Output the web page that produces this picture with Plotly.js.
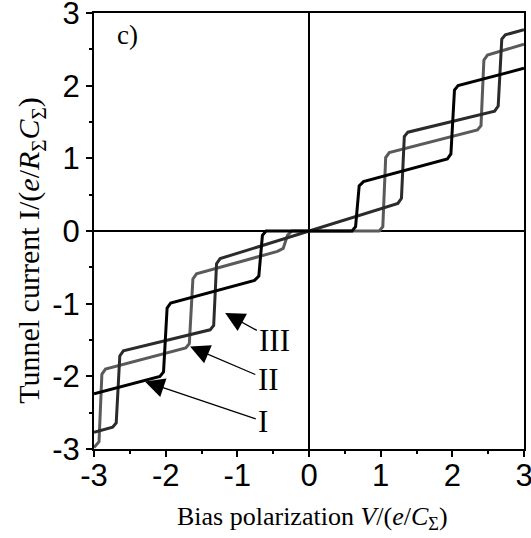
<!DOCTYPE html>
<html>
<head>
<meta charset="utf-8">
<script src="https://cdn.plot.ly/plotly-3.0.1.min.js"></script>
<style>html,body{margin:0;padding:0;background:#fff;}#chart{width:531px;height:538px;}</style>
</head>
<body>
<div id="chart"></div>
<script>
// Curve I (black)
const curveIx = [-3.00,-2.08,-2.03,-1.98,-1.93,-0.76,-0.70,-0.65,-0.60,0.60,0.65,0.70,0.76,1.93,1.98,2.03,2.08,3.00];
const curveIy = [-2.24,-2.00,-1.94,-1.06,-0.99,-0.68,-0.62,-0.06,0.00,0.00,0.06,0.62,0.68,0.99,1.06,1.94,2.00,2.24];
// Curve II (gray)
const curveIIx = [-3.00,-2.93,-2.89,-2.84,-1.72,-1.67,-1.62,-1.57,-0.44,-0.36,-0.30,-0.24,0.98,1.03,1.07,1.12,2.35,2.40,2.44,2.49,3.00];
const curveIIy = [-2.98,-2.90,-1.97,-1.90,-1.61,-1.55,-0.66,-0.59,-0.28,-0.24,-0.06,0.00,0.00,0.06,1.01,1.08,1.39,1.45,2.35,2.42,2.57];
// Curve III (dark gray)
const curveIIIx = [-3.00,-2.74,-2.69,-2.64,-2.59,-1.38,-1.33,-1.29,-1.24,1.24,1.29,1.33,1.38,2.59,2.64,2.69,2.74,3.00];
const curveIIIy = [-2.77,-2.70,-2.64,-1.72,-1.65,-1.36,-1.30,-0.45,-0.38,0.38,0.45,1.30,1.36,1.65,1.72,2.64,2.70,2.77];

const tickVals = [-3,-2,-1,0,1,2,3];
const tickText = ['-3','-2','-1','0','1','2','3'];

// Labels: text, label centre (arrow tail), arrow tip
const labelNames = ['I','II','III'];
const labelX = [-0.64,-0.57,-0.48];
const labelY = [-2.62,-2.05,-1.50];
const tipX = [-2.29,-1.66,-1.17];
const tipY = [-2.07,-1.59,-1.13];

const colors = ['#000000','#5a5a5a','#2b2b2b'];

const traces = [
  {x: curveIIx, y: curveIIy, mode:'lines', line:{color:colors[1], width:3}},
  {x: curveIIIx, y: curveIIIy, mode:'lines', line:{color:colors[2], width:3}},
  {x: curveIx, y: curveIy, mode:'lines', line:{color:colors[0], width:3}}
];

const axisCommon = {
  range:[-3,3], tickvals: tickVals, ticktext: tickText,
  showgrid:false, zeroline:true, zerolinecolor:'#000', zerolinewidth:2,
  showline:true, linecolor:'#000', linewidth:2, mirror:true,
  ticks:'outside', ticklen:6, tickwidth:2, tickcolor:'#000',
  minor:{dtick:0.5, ticks:'outside', ticklen:3, tickwidth:2, tickcolor:'#000'},
  tickfont:{family:'Liberation Sans, Arial, sans-serif', size:31, color:'#000'},
  ticklabeloverflow:'allow',
  fixedrange:true
};

const annotations = [];
for (let i=0;i<labelNames.length;i++){
  annotations.push({x:tipX[i], y:tipY[i], ax:labelX[i], ay:labelY[i], xref:'x', yref:'y', axref:'x', ayref:'y',
    text:labelNames[i], showarrow:true, arrowhead:2, arrowsize:3.0, arrowwidth:1.3, arrowcolor:'#000',
    xanchor:'center', yanchor:'middle', borderpad:0, standoff:0, startstandoff:2,
    font:{family:'Liberation Serif, Times New Roman, serif', size:31, color:'#000'}});
}
annotations.push({x:-2.71, y:2.70, xref:'x', yref:'y', text:'c)', showarrow:false, xanchor:'left', yanchor:'middle',
  font:{family:'Liberation Serif, Times New Roman, serif', size:27, color:'#000'}});
annotations.push({x:0.507, y:-0.158, xref:'paper', yref:'paper', showarrow:false, xanchor:'center', yanchor:'middle',
  text:'Bias polarization <i>V</i>/(<i>e</i>/<i>C</i><sub>Σ</sub>)',
  font:{family:'Liberation Serif, Times New Roman, serif', size:26, color:'#000'}});
annotations.push({x:-0.145, y:0.456, xref:'paper', yref:'paper', showarrow:false, xanchor:'center', yanchor:'middle', textangle:-90,
  text:'Tunnel current I/(<i>e</i>/<i>R</i><sub>Σ</sub><i>C</i><sub>Σ</sub>)',
  font:{family:'Liberation Serif, Times New Roman, serif', size:30, color:'#000'}});

const xaxis = Object.assign({}, axisCommon, {ticklabelstandoff:-8});
const yaxis = Object.assign({}, axisCommon);

const layout = {
  width:531, height:538,
  margin:{l:94, r:7, t:13, b:89, pad:0},
  paper_bgcolor:'#fff', plot_bgcolor:'#fff',
  showlegend:false,
  xaxis: xaxis,
  yaxis: yaxis,
  annotations: annotations
};

Plotly.newPlot('chart', traces, layout, {displayModeBar:false, staticPlot:true});
</script>
</body>
</html>
